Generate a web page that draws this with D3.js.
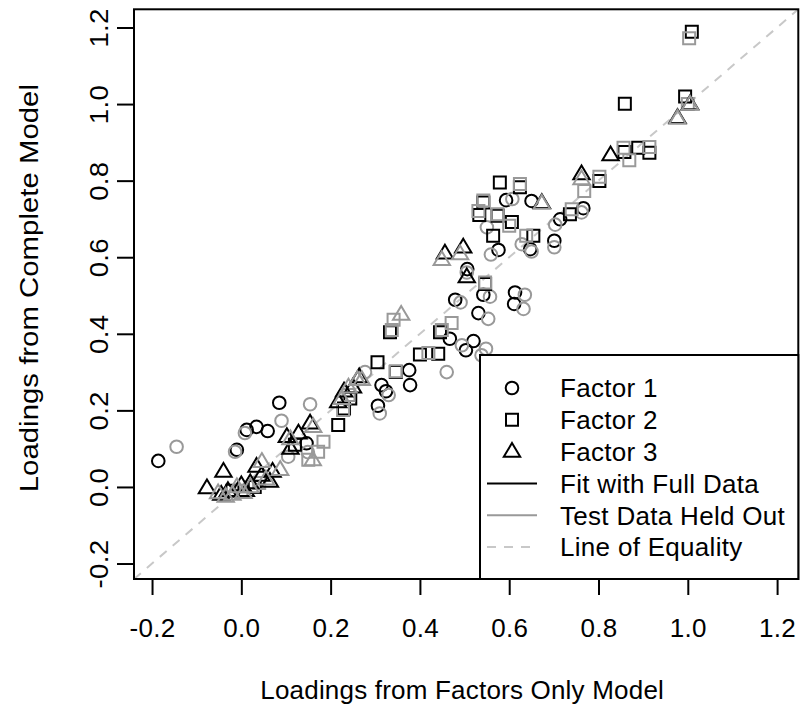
<!DOCTYPE html>
<html>
<head>
<meta charset="utf-8">
<script src="https://cdn.jsdelivr.net/npm/d3@7"></script>
<style>
  html, body { margin: 0; padding: 0; background: #fff; }
  svg { display: block; font-family: "Liberation Sans", Arial, Helvetica, sans-serif; }
</style>
</head>
<body>
<svg id="chart" width="800" height="711"></svg>
<script>
// Loadings per factor: [factors-only model, complete model]
const factor1Full = [
  [-0.186, 0.068], [0.085, 0.220], [0.012, 0.149], [0.034, 0.157], [0.059, 0.146],
  [-0.010, 0.097], [0.146, 0.114], [0.314, 0.266], [0.306, 0.212], [0.324, 0.250],
  [0.376, 0.305], [0.378, 0.266], [0.467, 0.387], [0.503, 0.357], [0.520, 0.381],
  [0.531, 0.454], [0.479, 0.489], [0.542, 0.502], [0.613, 0.508], [0.611, 0.478],
  [0.506, 0.569], [0.576, 0.619], [0.647, 0.621], [0.701, 0.643], [0.593, 0.749],
  [0.650, 0.747], [0.714, 0.699], [0.766, 0.728]
];
const factor1Held = [
  [-0.145, 0.105], [0.154, 0.216], [0.090, 0.173], [0.008, 0.141], [-0.014, 0.092],
  [0.105, 0.079], [0.149, 0.091], [0.277, 0.300], [0.310, 0.192], [0.330, 0.240],
  [0.460, 0.300], [0.494, 0.370], [0.548, 0.361], [0.538, 0.344], [0.553, 0.439],
  [0.491, 0.482], [0.557, 0.497], [0.635, 0.502], [0.632, 0.465], [0.505, 0.560],
  [0.559, 0.607], [0.628, 0.634], [0.701, 0.626], [0.550, 0.678], [0.703, 0.685],
  [0.607, 0.752], [0.762, 0.717], [0.650, 0.615]
];
const factor2Full = [
  [1.009, 1.189], [0.859, 1.001], [0.994, 1.020], [0.858, 0.875], [0.889, 0.886],
  [0.914, 0.873], [0.802, 0.799], [0.736, 0.712], [0.579, 0.795], [0.624, 0.783],
  [0.542, 0.743], [0.533, 0.710], [0.574, 0.708], [0.606, 0.692], [0.564, 0.656],
  [0.654, 0.656], [0.546, 0.530], [0.445, 0.404], [0.441, 0.348], [0.400, 0.346],
  [0.305, 0.326], [0.346, 0.300], [0.333, 0.404], [0.217, 0.162], [0.244, 0.231],
  [0.230, 0.205], [0.030, 0.000], [-0.020, -0.010], [0.120, 0.110]
];
const factor2Held = [
  [1.003, 1.172], [0.856, 0.886], [0.914, 0.888], [0.869, 0.853], [0.768, 0.773],
  [0.802, 0.810], [0.740, 0.725], [0.624, 0.791], [0.542, 0.748], [0.531, 0.721],
  [0.574, 0.712], [0.600, 0.682], [0.638, 0.656], [0.546, 0.534], [0.471, 0.428],
  [0.449, 0.410], [0.419, 0.350], [0.341, 0.437], [0.337, 0.410], [0.346, 0.302],
  [0.184, 0.118], [0.172, 0.092], [0.150, 0.071], [0.228, 0.201], [0.240, 0.240],
  [0.000, -0.010], [0.040, 0.010], [1.000, 1.000]
];
const factor3Full = [
  [1.005, 1.000], [0.977, 0.964], [0.827, 0.867], [0.762, 0.817], [0.673, 0.742],
  [0.456, 0.610], [0.497, 0.626], [0.505, 0.548], [0.264, 0.287], [0.217, 0.222],
  [0.250, 0.260], [0.154, 0.166], [0.128, 0.140], [0.102, 0.131], [0.034, 0.053],
  [0.064, 0.014], [-0.040, 0.040], [-0.077, -0.003], [-0.045, -0.020], [-0.030, -0.010],
  [0.000, 0.005], [0.010, -0.010], [0.020, 0.010], [0.045, 0.030], [0.070, 0.040],
  [0.110, 0.100], [0.230, 0.250]
];
const factor3Held = [
  [1.005, 0.999], [0.977, 0.962], [0.762, 0.804], [0.673, 0.740], [0.449, 0.593],
  [0.490, 0.608], [0.358, 0.450], [0.260, 0.280], [0.225, 0.230], [0.161, 0.157],
  [0.110, 0.125], [0.046, 0.066], [0.087, 0.045], [0.055, 0.020], [-0.052, -0.016],
  [-0.035, -0.025], [-0.020, -0.020], [-0.010, 0.000], [0.005, -0.015], [0.020, 0.000],
  [0.240, 0.260], [0.270, 0.280], [0.160, 0.070]
];

const tickValues = [-0.2, 0.0, 0.2, 0.4, 0.6, 0.8, 1.0, 1.2];
const axisRange = [-0.2404, 1.2475];

const legendLabels = ["Factor 1", "Factor 2", "Factor 3",
  "Fit with Full Data", "Test Data Held Out", "Line of Equality"];

const FULL = "#000000", HELD = "#999999", EQUAL = "#c8c8c8";
const FONT = "'Liberation Sans', Arial, Helvetica, sans-serif";

const svg = d3.select("#chart");
const box = { left: 134, right: 798.3, top: 9.3, bottom: 579 };

const x = d3.scaleLinear().domain(axisRange).range([box.left, box.right]);
const y = d3.scaleLinear().domain(axisRange).range([box.bottom, box.top]);

// open plotting symbols: circle, square, triangle
function symbolPath(kind) {
  if (kind === "circle") {
    const p = d3.path();
    p.arc(0, 0, 6.3, 0, 2 * Math.PI); p.closePath();
    return p.toString();
  }
  if (kind === "square") {
    const h = 6;
    return `M${-h},${-h}H${h}V${h}H${-h}Z`;
  }
  return "M0,-8.6L8.2,5.2L-8.2,5.2Z";
}
const fmt = d => d.toFixed(1);

// line of equality, clipped to the plot region
svg.append("clipPath").attr("id", "plotclip").append("rect")
  .attr("x", box.left).attr("y", box.top)
  .attr("width", box.right - box.left).attr("height", box.bottom - box.top);

svg.append("line")
  .attr("clip-path", "url(#plotclip)")
  .attr("x1", x(axisRange[0])).attr("y1", y(axisRange[0]))
  .attr("x2", x(axisRange[1])).attr("y2", y(axisRange[1]))
  .attr("stroke", EQUAL).attr("stroke-width", 2).attr("stroke-dasharray", "9,8");

const groups = [
  { data: factor1Full, kind: "circle", color: FULL },
  { data: factor1Held, kind: "circle", color: HELD },
  { data: factor2Full, kind: "square", color: FULL },
  { data: factor2Held, kind: "square", color: HELD },
  { data: factor3Full, kind: "triangle", color: FULL },
  { data: factor3Held, kind: "triangle", color: HELD }
];

const pts = svg.append("g").attr("clip-path", "url(#plotclip)");
groups.forEach(g => {
  pts.append("g").selectAll("path").data(g.data).join("path")
    .attr("d", symbolPath(g.kind))
    .attr("transform", d => `translate(${x(d[0])},${y(d[1])})`)
    .attr("fill", "none").attr("stroke", g.color).attr("stroke-width", 2);
});

// axes
const xAxis = svg.append("g").attr("transform", `translate(0,${box.bottom})`)
  .call(d3.axisBottom(x).tickValues(tickValues).tickFormat(fmt).tickSize(16));
const yAxis = svg.append("g").attr("transform", `translate(${box.left},0)`)
  .call(d3.axisLeft(y).tickValues(tickValues).tickFormat(fmt).tickSize(17));
[xAxis, yAxis].forEach(a => {
  a.select(".domain").remove();
  a.selectAll(".tick line").attr("stroke", "#000").attr("stroke-width", 2);
  a.selectAll(".tick text").attr("fill", "#000").style("font-size", "26px")
    .style("font-family", FONT).style("letter-spacing", "0.3px");
});
xAxis.selectAll(".tick text").attr("y", 39).attr("dy", "0.72em");
yAxis.selectAll(".tick text")
  .attr("x", null).attr("dy", null)
  .attr("text-anchor", "middle")
  .attr("transform", "translate(-26,0) rotate(-90) scale(1.06,1)");

// plot frame
svg.append("rect")
  .attr("x", box.left).attr("y", box.top)
  .attr("width", box.right - box.left).attr("height", box.bottom - box.top)
  .attr("fill", "none").attr("stroke", "#000").attr("stroke-width", 2);

// axis titles
svg.append("text")
  .attr("x", (box.left + box.right) / 2 - 4).attr("y", 699)
  .attr("text-anchor", "middle").style("font-size", "26px")
  .style("letter-spacing", "0.2px")
  .text("Loadings from Factors Only Model");
svg.append("text")
  .attr("transform", `translate(38,${(box.top + box.bottom) / 2 - 6}) rotate(-90) scale(1.13,1)`)
  .attr("text-anchor", "middle").style("font-size", "26px")
  .text("Loadings from Complete Model");

// legend
const lg = svg.append("g");
const lgBox = { x: 480, y: 355 };
lg.append("rect")
  .attr("x", lgBox.x).attr("y", lgBox.y)
  .attr("width", box.right - lgBox.x).attr("height", box.bottom - lgBox.y)
  .attr("fill", "#fff").attr("stroke", "#000").attr("stroke-width", 2);

const rowY = i => 388 + i * 31.8;
["circle", "square", "triangle"].forEach((k, i) => {
  lg.append("path").attr("d", symbolPath(k))
    .attr("transform", `translate(512,${rowY(i)})`)
    .attr("fill", "none").attr("stroke", FULL).attr("stroke-width", 2);
});
const legendLines = [
  { color: FULL, dash: null },
  { color: HELD, dash: null },
  { color: EQUAL, dash: "9,8" }
];
legendLines.forEach((l, i) => {
  lg.append("line")
    .attr("x1", 487).attr("x2", 537)
    .attr("y1", rowY(i + 3)).attr("y2", rowY(i + 3))
    .attr("stroke", l.color).attr("stroke-width", 2)
    .attr("stroke-dasharray", l.dash);
});
lg.selectAll("text.lab").data(legendLabels).join("text")
  .attr("class", "lab")
  .attr("x", 560).attr("y", (d, i) => rowY(i))
  .attr("dy", "0.36em").style("font-size", "26px")
  .style("letter-spacing", "0.3px")
  .text(d => d);
</script>
</body>
</html>
